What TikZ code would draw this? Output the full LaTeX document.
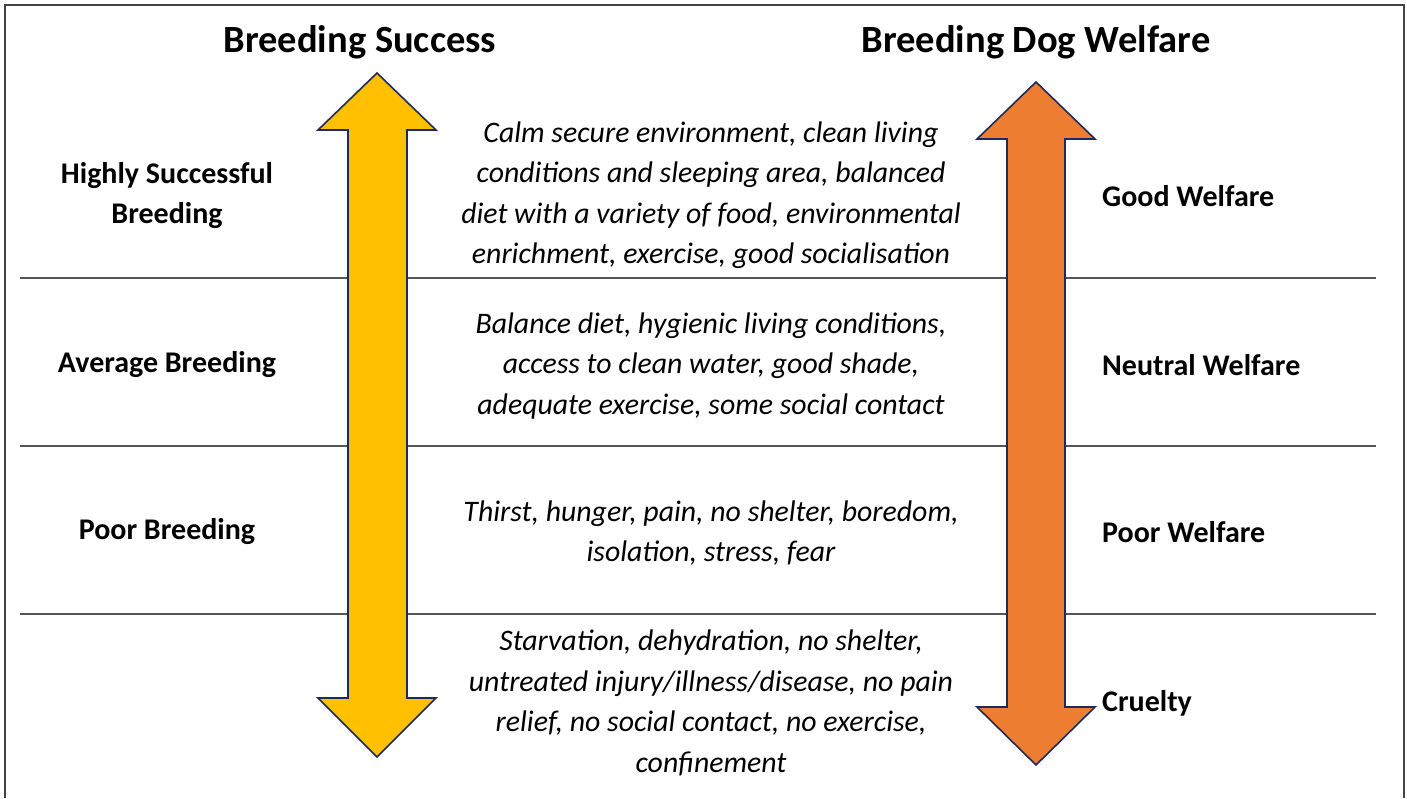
\documentclass[tikz,border=0pt]{standalone}
\usepackage{fontspec}
\setmainfont{Carlito}
\usetikzlibrary{positioning}

\definecolor{arrowyellow}{HTML}{FFC000}
\definecolor{arroworange}{HTML}{ED7D31}
\definecolor{arrowedge}{HTML}{1F2A5C}
\definecolor{rulegray}{HTML}{555555}

\tikzset{
  title/.style={font=\fontsize{38.5}{40}\selectfont\bfseries, inner sep=0pt},
  level/.style={font=\fontsize{30}{40}\selectfont\bfseries, align=center, inner sep=0pt},
  welfare/.style={font=\fontsize{30}{32}\selectfont\bfseries, anchor=west, inner sep=0pt},
  cond/.style={font=\fontsize{29.8}{40.5}\selectfont\itshape, align=center, inner sep=0pt},
  bigarrow/.style={draw=arrowedge, line width=1.6pt, line join=miter}
}

\begin{document}
\begin{tikzpicture}[x=1pt, y=-1pt]
      \useasboundingbox (0,0) rectangle (1407,798);

      \def\ra{278}
      \def\rb{446}
      \def\rc{614}

      % Frame
      \draw[rulegray!80!black, line width=1.5pt] (5,798) -- (5,5) -- (1404,5) -- (1404,798);

      % Rows
      \foreach \y in {\ra,\rb,\rc}
        \draw[rulegray, line width=2pt] (20,\y) -- (1376,\y);

      % Arrows
      \draw[bigarrow, fill=arrowyellow] (377,73) -- (436,130) -- (407,130) -- (407,698)
        -- (436,698) -- (377,757) -- (318,698) -- (348,698) -- (348,130) -- (318,130) -- cycle;
      \draw[bigarrow, fill=arroworange] (1036,82) -- (1095,139) -- (1065,139) -- (1065,707)
        -- (1095,707) -- (1036,765) -- (977,707) -- (1007,707) -- (1007,139) -- (977,139) -- cycle;

      % Titles
      \node[title] (succ) at (360,42) {Breeding Success};
      \node[title] (welf) at (1036,42) {Breeding Dog Welfare};

      % Breeding levels
      \node[level] (high) at (167,196) {Highly Successful\\Breeding};
      \node[level] (avg) at (167,365) {Average Breeding};
      \node[level] (poorb) at (167,532) {Poor Breeding};

      % Welfare levels
      \node[welfare] (good) at (1102,196) {Good Welfare};
      \node[welfare] (neutral) at (1102,365) {Neutral Welfare};
      \node[welfare] (poorw) at (1102,532) {Poor Welfare};
      \node[welfare] (cruel) at (1102,703) {Cruelty};

      % Conditions
      \node[cond] (c1) at (711,195) {Calm secure environment, clean living\\conditions and sleeping area, balanced\\diet with a variety of food, environmental\\enrichment, exercise, good socialisation};
      \node[cond] (c2) at (711,366) {Balance diet, hygienic living conditions,\\access to clean water, good shade,\\adequate exercise, some social contact};
      \node[cond] (c3) at (711,533) {Thirst, hunger, pain, no shelter, boredom,\\isolation, stress, fear};
      \node[cond] (c4) at (711,703) {Starvation, dehydration, no shelter,\\untreated injury/illness/disease, no pain\\relief, no social contact, no exercise,\\confinement};
\end{tikzpicture}
\end{document}
